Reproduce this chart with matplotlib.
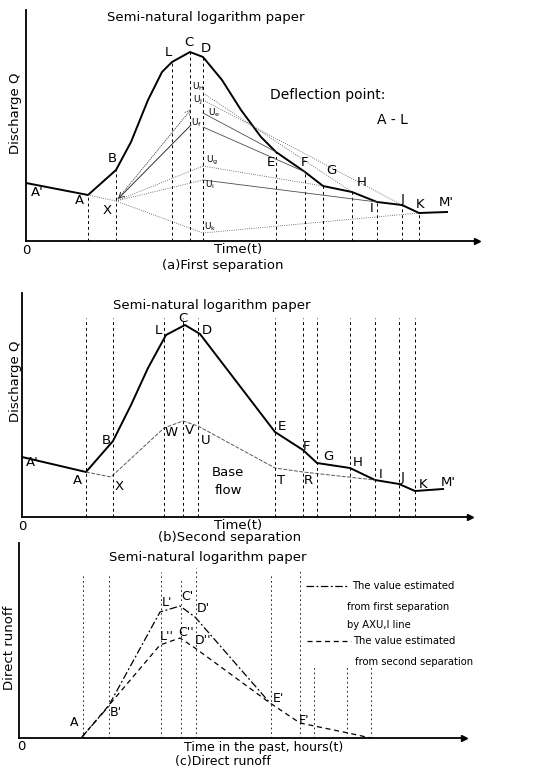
import matplotlib
matplotlib.use("Agg")
import matplotlib.pyplot as plt

W, H = 542, 769

# ---------------- (a) first separation ----------------
a_t = [0.0, 6.2, 9.0, 10.5, 12.2, 13.6, 14.6, 16.4, 17.7, 19.6, 21.5, 23.5,
       25.0, 27.9, 29.7, 32.6, 35.1, 37.6, 39.3, 42.1]
a_q = [5.8, 4.6, 7.1, 9.9, 14.1, 16.9, 17.9, 18.9, 18.4, 16.1, 13.1, 10.4,
       8.9, 6.9, 5.5, 4.9, 3.9, 3.6, 2.8, 2.9]
a_pt_t = [6.2, 9.0, 14.6, 16.4, 17.7, 25.0, 27.9, 29.7, 32.6, 35.1, 37.6, 39.3]
a_pt_q = [4.6, 7.1, 17.9, 18.9, 18.4, 8.9, 6.9, 5.5, 4.9, 3.9, 3.6, 2.8]
a_X = (9.0, 4.0)
a_u_t = 17.7
a_u_q = [14.8, 14.1, 12.8, 11.4, 7.5, 6.1, 0.8]           # U_H U_J U_e U_f U_g U_i U_k
a_u_end_t = [32.6, 37.6, 25.0, 27.9, 29.7, 35.1, 39.3]   # H J E F G I K
a_u_end_q = [4.9, 3.6, 8.9, 6.9, 5.5, 3.9, 2.8]
a_u_style = [':', ':', '-', '-', ':', '-', ':']
a_labels = [("A'", 1.1, 4.8), ("A", 5.3, 4.1), ("X", 8.1, 3.1), ("B", 8.6, 8.2),
            ("L", 14.2, 18.8), ("C", 16.3, 19.8), ("D", 18.0, 19.3),
            ("E", 24.5, 7.8), ("F", 27.9, 7.8), ("G", 30.5, 7.1), ("H", 33.6, 5.8),
            ("I", 34.6, 3.2), ("J", 37.7, 4.2), ("K", 39.4, 3.7), ("M'", 42.0, 3.8)]
a_u_labels = [(r"U$_\mathrm{H}$", 17.2, 15.4), (r"U$_\mathrm{J}$", 17.2, 14.1),
              (r"U$_\mathrm{e}$", 18.8, 12.8), (r"U$_\mathrm{f}$", 17.1, 11.8),
              (r"U$_\mathrm{g}$", 18.6, 8.1), (r"U$_\mathrm{i}$", 18.4, 5.6),
              (r"U$_\mathrm{k}$", 18.4, 1.4)]

# ---------------- (b) second separation ----------------
b_t = [0.0, 6.4, 9.1, 10.9, 12.6, 14.4, 16.3, 17.8, 25.3, 28.1, 29.5, 32.8,
       35.3, 37.7, 39.3, 42.1]
b_q = [6.0, 4.5, 7.6, 11.2, 14.9, 18.2, 19.2, 18.3, 8.5, 6.7, 5.4, 4.9,
       3.7, 3.3, 2.6, 2.8]
b_base_t = [6.4, 8.9, 14.2, 16.1, 17.6, 25.3, 28.1, 35.3]
b_base_q = [4.5, 4.0, 8.9, 9.6, 9.1, 4.9, 4.5, 3.7]
b_vert_t = [6.4, 9.1, 14.2, 16.1, 17.6, 25.3, 28.1, 29.5, 32.8, 35.3, 37.7, 39.3]
b_labels = [("A'", 1.0, 5.5), ("A", 5.5, 3.7), ("X", 9.7, 3.0), ("B", 8.4, 7.6),
            ("W", 14.9, 8.4), ("V", 16.7, 8.7), ("U", 18.4, 7.7),
            ("L", 13.6, 18.6), ("C", 16.1, 19.9), ("D", 18.5, 18.7),
            ("E", 26.0, 9.0), ("F", 28.4, 7.1), ("G", 30.6, 6.0), ("H", 33.6, 5.4),
            ("I", 35.9, 4.3), ("J", 38.1, 4.0), ("K", 40.1, 3.3), ("M'", 42.6, 3.5),
            ("T", 25.9, 3.7), ("R", 28.6, 3.7)]

# ---------------- (c) direct runoff ----------------
c1_t = [6.3, 8.9, 14.1, 16.1, 17.6, 25.1]          # first separation
c1_q = [0.1, 3.1, 12.6, 13.2, 12.1, 3.5]
c2_t = [6.3, 14.1, 16.1, 17.6, 25.1, 28.1, 32.9, 35.2]   # second separation
c2_q = [0.1, 9.3, 10.0, 9.0, 3.5, 1.5, 0.5, 0.0]
c_vert_t = [6.4, 9.0, 14.2, 16.2, 17.7, 25.2, 28.1, 29.5, 32.8, 35.2]
c_vert_top = [16.5, 16.5, 16.6, 15.8, 17.0, 16.5, 16.8, 7.1, 7.1, 7.1]
c_labels = [("A", 5.5, 1.6), ("B'", 9.7, 2.5), ("L'", 14.8, 13.5), ("C'", 16.8, 14.2),
            ("D'", 18.4, 13.0), ("L''", 14.8, 10.2), ("C''", 16.7, 10.5),
            ("D''", 18.4, 9.8), ("E'", 25.9, 4.0), ("F'", 28.5, 1.8)]

fig = plt.figure(figsize=(W / 100, H / 100), dpi=100)
fig.patch.set_facecolor("white")


def make_ax(x0, y0, x1, y1):
    ax = fig.add_axes([x0 / W, 1 - y0 / H, (x1 - x0) / W, (y0 - y1) / H])
    ax.set_xlim(0, (x1 - x0) / 10)
    ax.set_ylim(0, (y0 - y1) / 10)
    for s in ["top", "right"]:
        ax.spines[s].set_visible(False)
    for s in ["left", "bottom"]:
        ax.spines[s].set_linewidth(1.3)
    ax.set_xticks([])
    ax.set_yticks([])
    ax.patch.set_alpha(0)
    ax.plot(1, 0, ">k", ms=4, transform=ax.transAxes, clip_on=False)
    return ax


def ftext(px, py, s, size=9.5, **kw):
    kw.setdefault("ha", "center")
    kw.setdefault("va", "center")
    fig.text(px / W, 1 - py / H, s, fontsize=size, **kw)


vdash = dict(color="black", lw=0.7, ls=(0, (3, 3)))
thin = dict(color="0.3", lw=0.6)

# ---- panel a ----
ax = make_ax(26, 241, 477, 10)
ax.plot(a_t, a_q, color="black", lw=1.4)
for t, q in zip(a_pt_t, a_pt_q):
    ax.plot([t, t], [0, q], **vdash)
ax.plot([a_u_t, a_u_t], [0, a_u_q[0]], **vdash)
ax.plot([a_pt_t[0], a_X[0]], [a_pt_q[0], a_X[1]], ls=":", **thin)
for uq, et, eq, st in zip(a_u_q, a_u_end_t, a_u_end_q, a_u_style):
    ax.plot([a_u_t, et], [uq, eq], ls=st, **thin)
for uq in [a_u_q[4], a_u_q[5], a_u_q[6]]:
    ax.plot([a_X[0], a_u_t], [a_X[1], uq], ls=":", **thin)
ax.annotate("", xy=(a_u_t - 1.0, a_u_q[2] + 0.6), xytext=a_X,
            arrowprops=dict(arrowstyle="->", color="0.3", lw=0.6, ls=":"))
ax.annotate("", xy=a_X, xytext=(a_u_t - 1.0, a_u_q[2] - 1.0),
            arrowprops=dict(arrowstyle="->", color="0.2", lw=0.7))
for s, t, q in a_labels:
    ax.text(t, q, s, fontsize=9.5, ha="center", va="center")
for s, t, q in a_u_labels:
    ax.text(t, q, s, fontsize=6.5, ha="center", va="center")

ftext(206, 17, "Semi-natural logarithm paper")
ftext(328, 95, "Deflection point:", size=10)
ftext(392, 120, "A - L", size=10)
ftext(16, 113, "Discharge Q", rotation=90)
ftext(26, 251, "0")
ftext(238, 249, "Time(t)")
ftext(223, 266, "(a)First separation")

# ---- panel b ----
ax = make_ax(22, 517, 470, 293)
ax.plot(b_t, b_q, color="black", lw=1.4)
ax.plot(b_base_t, b_base_q, color="0.35", lw=0.7, ls=(0, (4, 1.5)))
for t in b_vert_t:
    ax.plot([t, t], [0, 19.9], **vdash)
for s, t, q in b_labels:
    ax.text(t, q, s, fontsize=9.5, ha="center", va="center")
ax.text(20.6, 4.5, "Base", fontsize=9.5, ha="center", va="center")
ax.text(20.6, 2.6, "flow", fontsize=9.5, ha="center", va="center")

ftext(212, 306, "Semi-natural logarithm paper")
ftext(16, 381, "Discharge Q", rotation=90)
ftext(22, 527, "0")
ftext(238, 525, "Time(t)")
ftext(230, 538, "(b)Second separation")

# ---- panel c ----
ax = make_ax(19, 738, 464, 543)
for t, top in zip(c_vert_t, c_vert_top):
    ax.plot([t, t], [0, top], color="black", lw=0.6, ls=(0, (2, 3.5)))
ax.plot(c1_t, c1_q, color="black", lw=0.9, ls=(0, (6, 2, 1.5, 2)))
ax.plot(c2_t, c2_q, color="black", lw=0.9, ls=(0, (4, 3)))
for s, t, q in c_labels:
    ax.text(t, q, s, fontsize=9, ha="center", va="center")

ftext(208, 557, "Semi-natural logarithm paper")
ftext(10, 648, "Direct runoff", rotation=90)
ftext(21, 746, "0")
ftext(264, 747, "Time in the past, hours(t)", size=9)
ftext(223, 761, "(c)Direct runoff", size=9)

# legend drawn as in the original figure
fig.add_artist(plt.Line2D([306 / W, 349 / W], [1 - 586 / H] * 2, color="black",
                          lw=0.9, ls=(0, (6, 2, 1.5, 2))))
fig.add_artist(plt.Line2D([307 / W, 351 / W], [1 - 641 / H] * 2, color="black",
                          lw=0.9, ls=(0, (4, 3))))
ftext(352, 586, "The value estimated", size=7.2, ha="left")
ftext(347, 607, "from first separation", size=7.2, ha="left")
ftext(347, 625, "by AXU,I line", size=7.2, ha="left")
ftext(353, 641, "The value estimated", size=7.2, ha="left")
ftext(355, 662, "from second separation", size=7.2, ha="left")

fig.savefig("out.png", dpi=100)
